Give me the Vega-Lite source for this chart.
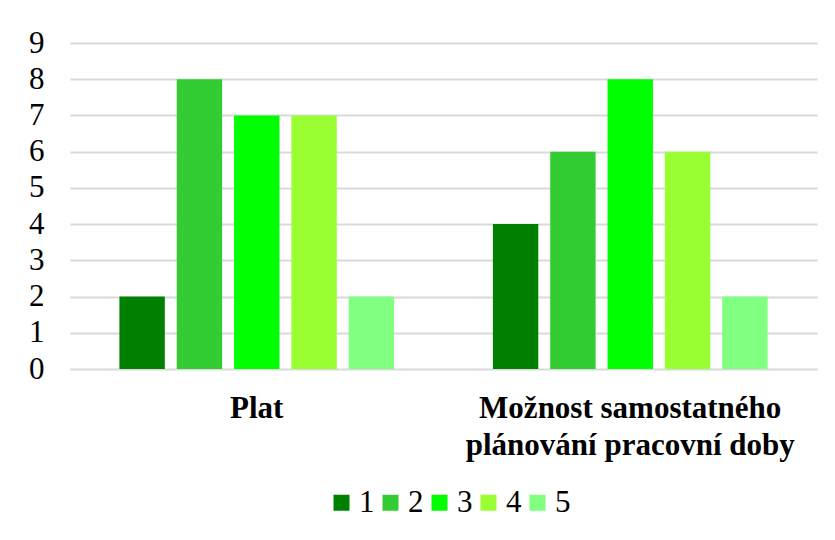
{
  "$schema": "https://vega.github.io/schema/vega-lite/v6.json",
  "autosize": {"type": "none"},
  "width": 747,
  "height": 326,
  "padding": {"left": 70, "top": 43, "right": 18, "bottom": 171},
  "background": "white",
  "data": {
    "values": [
      {"kategorie": "Plat", "hodnoceni": "1", "pocet": 2},
      {"kategorie": "Plat", "hodnoceni": "2", "pocet": 8},
      {"kategorie": "Plat", "hodnoceni": "3", "pocet": 7},
      {"kategorie": "Plat", "hodnoceni": "4", "pocet": 7},
      {"kategorie": "Plat", "hodnoceni": "5", "pocet": 2},
      {"kategorie": "Možnost samostatného plánování pracovní doby", "hodnoceni": "1", "pocet": 4},
      {"kategorie": "Možnost samostatného plánování pracovní doby", "hodnoceni": "2", "pocet": 6},
      {"kategorie": "Možnost samostatného plánování pracovní doby", "hodnoceni": "3", "pocet": 8},
      {"kategorie": "Možnost samostatného plánování pracovní doby", "hodnoceni": "4", "pocet": 6},
      {"kategorie": "Možnost samostatného plánování pracovní doby", "hodnoceni": "5", "pocet": 2}
    ]
  },
  "mark": {"type": "bar"},
  "encoding": {
    "x": {
      "field": "kategorie",
      "type": "nominal",
      "sort": null,
      "scale": {"paddingInner": 0.2645, "paddingOuter": 0.1323},
      "axis": {
        "title": null,
        "labelAngle": 0,
        "ticks": false,
        "domain": false,
        "labelFont": "Liberation Serif",
        "labelFontSize": 31,
        "labelFontWeight": "bold",
        "labelColor": "black",
        "labelPadding": 24,
        "labelLineHeight": 37,
        "labelLimit": 0,
        "labelOverlap": false,
        "labelExpr": "datum.label == 'Plat' ? 'Plat' : ['Možnost samostatného', 'plánování pracovní doby']"
      }
    },
    "xOffset": {
      "field": "hodnoceni",
      "type": "nominal",
      "scale": {"paddingInner": 0.208, "paddingOuter": 0}
    },
    "y": {
      "field": "pocet",
      "type": "quantitative",
      "scale": {"domain": [0, 9]},
      "axis": {
        "title": null,
        "values": [0, 1, 2, 3, 4, 5, 6, 7, 8, 9],
        "ticks": false,
        "domain": false,
        "grid": true,
        "gridColor": "#d9d9d9",
        "gridWidth": 2,
        "labelOverlap": false,
        "labelFont": "Liberation Serif",
        "labelFontSize": 31,
        "labelColor": "black",
        "labelPadding": 26
      }
    },
    "color": {
      "field": "hodnoceni",
      "type": "nominal",
      "scale": {
        "domain": ["1", "2", "3", "4", "5"],
        "range": ["#008000", "#33cc33", "#00ff00", "#99ff33", "#80ff80"]
      },
      "legend": {
        "title": null,
        "orient": "none",
        "direction": "horizontal",
        "legendX": 256,
        "legendY": 444,
        "padding": 0,
        "symbolType": "square",
        "symbolSize": 256,
        "symbolStrokeWidth": 0,
        "symbolOpacity": 1,
        "labelFont": "Liberation Serif",
        "labelFontSize": 31,
        "labelColor": "black",
        "labelOffset": 2,
        "columnPadding": 0
      }
    }
  },
  "config": {
    "view": {"stroke": null},
    "axis": {"labelFont": "Liberation Serif"}
  }
}
